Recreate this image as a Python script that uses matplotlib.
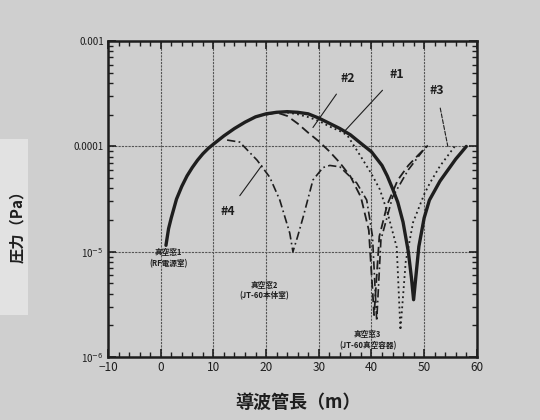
import numpy as np
import matplotlib
matplotlib.use("Agg")
import matplotlib.pyplot as plt
from matplotlib.patches import Rectangle
from matplotlib.ticker import FixedLocator, FixedFormatter, LogLocator, MultipleLocator

plt.rcParams['font.family'] = ['Noto Sans CJK JP', 'DejaVu Sans']

# curve #1 (solid, thick)
x1 = [1.0, 1.5, 2.0, 3.0, 4.0, 5.0, 6.0, 7.0, 8.0, 9.0, 10.0, 12.0, 14.0, 16.0,
      18.0, 20.0, 22.0, 24.0, 26.0, 28.0, 30.0, 32.0, 34.0, 36.0, 38.0, 40.0,
      42.0, 43.0, 44.0, 45.0, 46.0, 47.0, 47.6, 48.0, 48.4, 49.0, 50.0, 51.0,
      52.0, 53.0, 54.0, 55.0, 56.0, 57.0, 58.0]
p1 = [1.15e-5, 1.66e-5, 2.09e-5, 3.16e-5, 4.17e-5, 5.25e-5, 6.31e-5, 7.41e-5,
      8.51e-5, 9.55e-5, 1.05e-4, 1.26e-4, 1.48e-4, 1.70e-4, 1.91e-4, 2.04e-4,
      2.11e-4, 2.14e-4, 2.11e-4, 2.04e-4, 1.86e-4, 1.66e-4, 1.48e-4, 1.29e-4,
      1.07e-4, 8.9e-5, 6.6e-5, 5.25e-5, 3.98e-5, 2.95e-5, 1.91e-5, 1.0e-5,
      5.6e-6, 3.5e-6, 5.6e-6, 1.12e-5, 2.09e-5, 3.09e-5, 3.8e-5, 4.68e-5,
      5.5e-5, 6.46e-5, 7.59e-5, 8.7e-5, 1.0e-4]

# curve #2 (dashed)
x2 = [20.0, 22.0, 24.0, 26.0, 28.0, 30.0, 32.0, 34.0, 36.0, 38.0, 39.5, 40.5,
      41.5, 43.0, 45.0, 47.0, 49.0, 50.7]
p2 = [2.0e-4, 2.1e-4, 1.95e-4, 1.65e-4, 1.35e-4, 1.12e-4, 9.0e-5, 7.0e-5, 5.2e-5,
      3.3e-5, 1.6e-5, 2.5e-6, 1.4e-5, 2.8e-5, 4.8e-5, 6.6e-5, 8.4e-5, 1.02e-4]

# curve #3 (dotted)
x3 = [24.0, 26.0, 28.0, 30.0, 32.0, 34.0, 35.4, 38.0, 40.0, 41.6, 43.0, 44.8,
      45.5, 46.5, 47.9, 50.0, 51.1, 53.0, 54.9, 55.8]
p3 = [2.1e-4, 2.02e-4, 1.9e-4, 1.75e-4, 1.55e-4, 1.4e-4, 1.28e-4, 8.0e-5,
      5.5e-5, 3.9e-5, 2.4e-5, 1.1e-5, 1.8e-6, 8.0e-6, 1.9e-5, 3.5e-5, 4.5e-5,
      6.5e-5, 8.7e-5, 1.0e-4]

# curve #4 (dash-dot)
x4 = [12.6, 15.0, 18.3, 20.7, 22.6, 24.5, 25.1, 26.0, 27.0, 28.9, 30.8, 32.1,
      34.0, 37.2, 39.1, 40.2, 41.0, 41.8, 44.0, 47.0, 50.7]
p4 = [1.15e-4, 1.1e-4, 7.4e-5, 5.1e-5, 3.1e-5, 1.5e-5, 1.0e-5, 1.4e-5, 2.1e-5,
      4.8e-5, 6.3e-5, 6.6e-5, 6.4e-5, 4.5e-5, 3.1e-5, 1.4e-5, 2.2e-6, 1.3e-5,
      3.3e-5, 6.0e-5, 1.05e-4]

bg = '#cfcfcf'
ink = '#1e1e1e'

fig = plt.figure(figsize=(5.4, 4.2), dpi=100, facecolor=bg)
fig.patches.append(Rectangle((0, 0.25), 0.052, 0.42, transform=fig.transFigure,
                             facecolor='#e2e2e2', edgecolor='none', zorder=0))
ax = fig.add_axes([0.2, 0.15, 0.683, 0.752])
ax.set_facecolor(bg)

ax.plot(x1, p1, color=ink, lw=2.4, solid_capstyle='round', solid_joinstyle='round')
ax.plot(x2, p2, color=ink, lw=1.3, linestyle=(0, (5, 2.5)))
ax.plot(x3, p3, color=ink, lw=1.3, linestyle=(0, (1, 1.8)))
ax.plot(x4, p4, color=ink, lw=1.2, linestyle=(0, (5, 2, 1, 2)))

ax.set_yscale('log')
ax.set_xlim(-10, 60)
ax.set_ylim(1e-6, 1e-3)

ax.xaxis.set_major_locator(MultipleLocator(10))
ax.xaxis.set_minor_locator(MultipleLocator(2))
ax.yaxis.set_major_locator(FixedLocator([1e-6, 1e-5, 1e-4, 1e-3]))
ax.yaxis.set_major_formatter(FixedFormatter(['10$^{-6}$', '10$^{-5}$', '0.0001', '0.001']))
ax.yaxis.set_minor_locator(LogLocator(base=10, subs=np.arange(2, 10)))

ax.tick_params(which='both', direction='in', top=True, right=True, colors=ink)
ax.tick_params(which='major', length=6, width=1.2, labelsize=8.5, pad=3)
ax.tick_params(which='minor', length=3.5, width=1.0)
ax.tick_params(axis='y', which='major', labelsize=7)
for s in ax.spines.values():
    s.set_linewidth(1.8)
    s.set_color(ink)

ax.grid(True, which='major', color='#555555', lw=0.8, linestyle=(0, (2, 1)))

# curve labels with leader lines
lab = dict(fontsize=9, fontweight='bold', color=ink)
ax.annotate('#2', xy=(28.9, 10**-3.82), xytext=(35.5, 10**-3.35), ha='center', va='center',
            arrowprops=dict(arrowstyle='-', color=ink, lw=0.8, shrinkA=6, shrinkB=0), **lab)
ax.annotate('#1', xy=(35.0, 10**-3.85), xytext=(44.8, 10**-3.32), ha='center', va='center',
            arrowprops=dict(arrowstyle='-', color=ink, lw=0.8, shrinkA=6, shrinkB=0), **lab)
ax.annotate('#3', xy=(54.5, 1e-4), xytext=(52.4, 10**-3.47), ha='center', va='center',
            arrowprops=dict(arrowstyle='-', color=ink, lw=0.8, linestyle='--',
                            shrinkA=6, shrinkB=0), **lab)
ax.annotate('#4', xy=(19.2, 10**-4.18), xytext=(12.8, 10**-4.62), ha='center', va='center',
            arrowprops=dict(arrowstyle='-', color=ink, lw=0.8, shrinkA=6, shrinkB=0), **lab)

note = dict(fontsize=5.5, fontweight='bold', color=ink, ha='center', va='center',
            linespacing=1.3)
ax.text(1.4, 10**-5.06, '真空窓1\n(RF電源室)', **note)
ax.text(19.6, 10**-5.37, '真空窓2\n(JT-60本体室)', **note)
ax.text(39.3, 10**-5.84, '真空窓3\n(JT-60真空容器)', **note)

fig.text(0.032, 0.47, '圧力（Pa）', rotation=90, ha='center', va='center',
         fontsize=11, fontweight='bold', color=ink)
fig.text(0.552, 0.042, '導波管長（m）', ha='center', va='center',
         fontsize=13, fontweight='bold', color=ink)

fig.savefig('out.png', dpi=100, facecolor=bg)
